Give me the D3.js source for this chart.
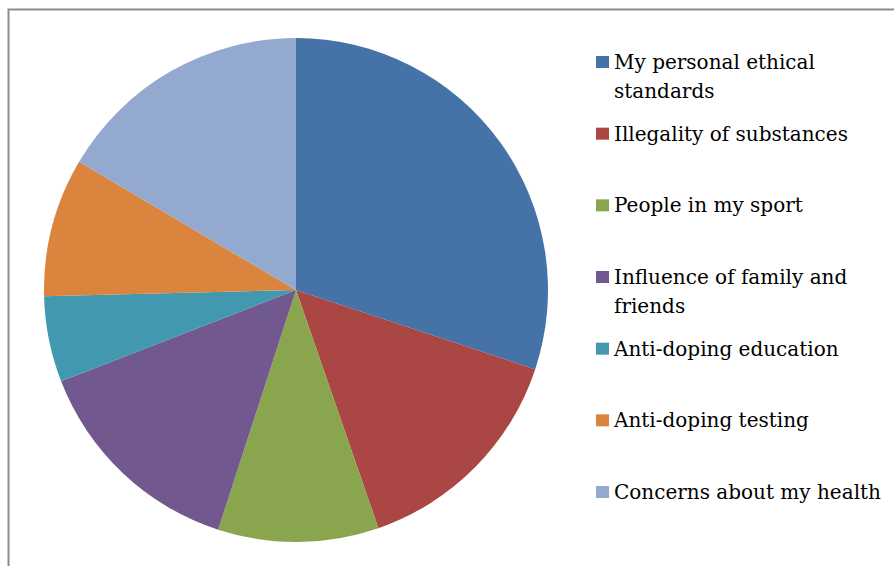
<!DOCTYPE html>
<html><head><meta charset="utf-8">
<script src="https://cdn.jsdelivr.net/npm/d3@7"></script>
<style>body{margin:0;background:#fff;overflow:hidden}</style>
</head><body>
<svg id="c" width="894" height="566"></svg>
<script>
const categories = [
  ["My personal ethical", "standards"],
  ["Illegality of substances"],
  ["People in my sport"],
  ["Influence of family and", "friends"],
  ["Anti-doping education"],
  ["Anti-doping testing"],
  ["Concerns about my health"]
];
const values = [30.1, 14.6, 10.3, 14.1, 5.5, 8.9, 16.5];
const colors = ["#4572A7", "#AA4643", "#89A54E", "#71588F", "#4198AF", "#DB843D", "#93A9CF"];

const svg = d3.select("#c");
svg.append("rect").attr("x", 8.5).attr("y", 9.5).attr("width", 1000).attr("height", 1000)
  .attr("fill", "none").attr("stroke", "#8c8c8c").attr("stroke-width", 2);

const cx = 296, cy = 290, r = 252;
const pie = d3.pie().sort(null).value(d => d)(values);
const arc = d3.arc().innerRadius(0).outerRadius(r);
const g = svg.append("g").attr("transform", `translate(${cx},${cy})`);
g.selectAll("path").data(pie).join("path")
  .attr("d", arc).attr("fill", (d, i) => colors[i]);

const ly = d3.scalePoint().domain(d3.range(categories.length)).range([62, 492]);
const lg = svg.append("g");
categories.forEach((lines, i) => {
  const y = ly(i);
  lg.append("rect").attr("x", 596).attr("y", y - 6).attr("width", 13).attr("height", 12).attr("fill", colors[i]);
  const t = lg.append("text").attr("x", 614).attr("y", y + 7)
    .attr("font-family", "DejaVu Serif").attr("font-size", 20).attr("fill", "#000");
  lines.forEach((l, j) => t.append("tspan").attr("x", 614).attr("dy", j ? 29 : 0).text(l));
});
</script>
</body></html>
